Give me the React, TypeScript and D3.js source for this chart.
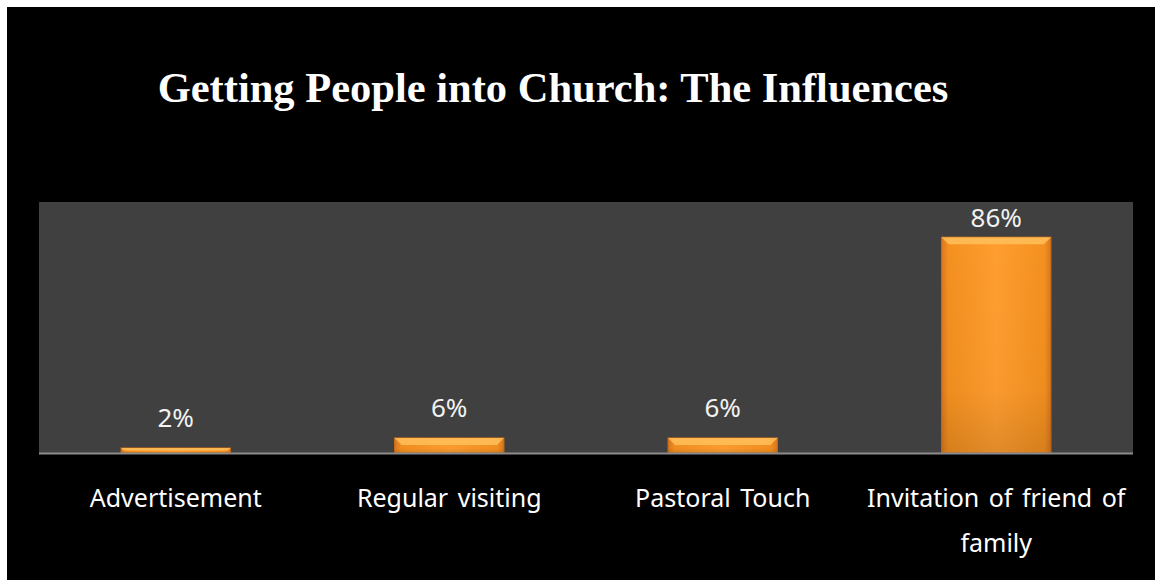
import React from "react";
import * as d3 from "d3";

const categories = ["Advertisement", "Regular visiting", "Pastoral Touch", "Invitation of friend of family"];
const values = [2, 6, 6, 86];
const valueLabels = ["2%", "6%", "6%", "86%"];
const categoryLines = [["Advertisement"], ["Regular visiting"], ["Pastoral Touch"], ["Invitation of friend of", "family"]];

const W = 1155;
const H = 580;
const plot = { left: 39, right: 1133, top: 202, bottom: 453 };

export default function App() {
  const x = d3.scaleBand<string>().domain(categories).range([plot.left, plot.right]).paddingInner(0.6).paddingOuter(0.3);
  const y = d3.scaleLinear().domain([0, 100]).range([plot.bottom, plot.top]);
  const bw = x.bandwidth();
  const font = "'Noto Sans', 'Open Sans', sans-serif";
  return (
    <svg width={W} height={H} style={{ position: "absolute", left: 0, top: 0 }}>
      <defs>
        <linearGradient id="barH" x1="0" x2="1" y1="0" y2="0">
          <stop offset="0" stopColor="#d9771f" />
          <stop offset="0.06" stopColor="#f3901f" />
          <stop offset="0.5" stopColor="#ff9d30" />
          <stop offset="0.94" stopColor="#f3901f" />
          <stop offset="1" stopColor="#d9771f" />
        </linearGradient>
        <linearGradient id="barV" x1="0" x2="0" y1="0" y2="1">
          <stop offset="0" stopColor="#000" stopOpacity="0" />
          <stop offset="0.7" stopColor="#000" stopOpacity="0.02" />
          <stop offset="1" stopColor="#000" stopOpacity="0.12" />
        </linearGradient>
      </defs>
      <rect x={0} y={0} width={W} height={H} fill="#fff" />
      <rect x={7} y={7} width={W - 7} height={H - 7} fill="#000" />
      <text x={553} y={102} textAnchor="middle" fill="#fff" fontFamily="'Liberation Serif', 'Times New Roman', serif" fontWeight="bold" fontSize={42.5}>
        Getting People into Church: The Influences
      </text>
      <rect x={plot.left} y={plot.top} width={plot.right - plot.left} height={plot.bottom - plot.top} fill="#404040" />
      {categories.map((c, i) => {
        const x0 = x(c)!;
        const top = y(values[i]);
        const h = plot.bottom - top;
        const bev = Math.min(7, h / 2);
        return (
          <g key={c}>
            <rect x={x0} y={top} width={bw} height={h} fill="url(#barH)" stroke="#c76a16" strokeWidth={1} />
            <rect x={x0} y={top} width={bw} height={h} fill="url(#barV)" />
            <polygon
              points={`${x0},${top} ${x0 + bw},${top} ${x0 + bw - bev},${top + bev} ${x0 + bev},${top + bev}`}
              fill="#ffc05a"
              opacity={0.85}
            />
            <text
              x={x0 + bw / 2}
              y={Math.max(top - 21, plot.top + 25)}
              textAnchor="middle"
              fill="#f2f2f2"
              fontFamily={font}
              fontSize={26}
            >
              {valueLabels[i]}
            </text>
            {categoryLines[i].map((line, j) => (
              <text
                key={j}
                x={x0 + bw / 2}
                y={507 + j * 45}
                textAnchor="middle"
                fill="#fff"
                fontFamily={font}
                fontSize={25}
                wordSpacing={3}
              >
                {line}
              </text>
            ))}
          </g>
        );
      })}
      <line x1={plot.left} x2={plot.right} y1={plot.bottom + 0.5} y2={plot.bottom + 0.5} stroke="#8c8c8c" strokeWidth={2} />
    </svg>
  );
}
